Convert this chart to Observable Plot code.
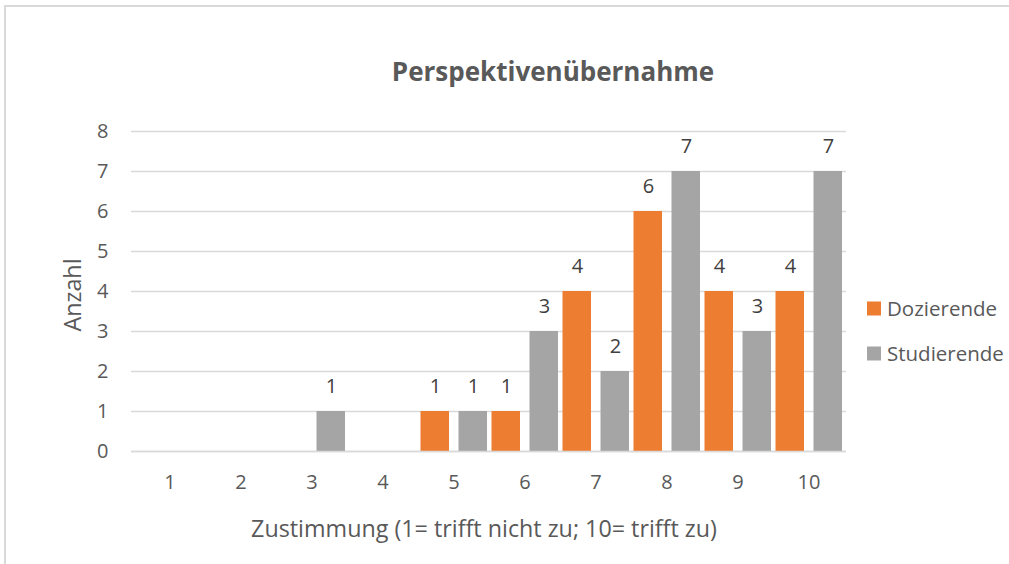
<!DOCTYPE html>
<html><head><meta charset="utf-8">
<script src="https://cdn.jsdelivr.net/npm/d3@7"></script>
<script src="https://cdn.jsdelivr.net/npm/@observablehq/plot@0.6"></script>
<style>
html,body{margin:0;padding:0;background:#fff;}
#chart{position:relative;width:1009px;height:564px;overflow:hidden;}
</style></head><body><div id="chart"></div>
<script>
const categories = ["1","2","3","4","5","6","7","8","9","10"];
const seriesNames = ["Dozierende","Studierende"];
const dozierende = [0,0,0,0,1,1,4,6,4,4];
const studierende = [0,0,1,0,1,3,2,7,3,7];
const yTicks = [0,1,2,3,4,5,6,7,8];
const title = "Perspektivenübernahme";
const xTitle = "Zustimmung (1= trifft nicht zu; 10= trifft zu)";
const yTitle = "Anzahl";
const colors = ["#ED7D31","#A5A5A5"];

const rowsD = categories.map((c,i)=>({cat:c, series:seriesNames[0], value:dozierende[i]}));
const rowsS = categories.map((c,i)=>({cat:c, series:seriesNames[1], value:studierende[i]}));

const FONT = "'Open Sans'";
const W = 1009, H = 564;
const plot = Plot.plot({
  width: W, height: H,
  marginLeft: 131, marginRight: 163, marginTop: 131, marginBottom: 113,
  style: {fontFamily: FONT, fontSize: "20px", color: "#595959", background: "white"},
  x: {type: "band", domain: categories, padding: 0, label: null, tickSize: 0, tickPadding: 23},
  y: {domain: [0, 8], ticks: yTicks, label: null, tickSize: 0, tickPadding: 23},
  marks: [
    Plot.ruleY(yTicks, {stroke: "#d9d9d9", strokeWidth: 1.5}),
    Plot.barY(rowsD, {x: "cat", y: "value", fill: colors[0], insetLeft: 2.5, insetRight: 40}),
    Plot.barY(rowsS, {x: "cat", y: "value", fill: colors[1], insetLeft: 40.5, insetRight: 2}),
    Plot.ruleY([0], {stroke: "#d9d9d9", strokeWidth: 1.5}),
    Plot.text(rowsD.filter(d => d.value > 0), {x: "cat", y: "value", text: d => String(d.value), dx: -18.5, dy: -25, fill: "#404040", fontSize: 20, lineAnchor: "middle"}),
    Plot.text(rowsS.filter(d => d.value > 0), {x: "cat", y: "value", text: d => String(d.value), dx: 19.5, dy: -25, fill: "#404040", fontSize: 20, lineAnchor: "middle"})
  ]
});
document.getElementById("chart").appendChild(plot);

const svg = d3.select(plot);
// outer frame
svg.append("line").attr("x1", 5).attr("x2", 5).attr("y1", 5).attr("y2", H).attr("stroke", "#d9d9d9").attr("stroke-width", 2);
svg.append("line").attr("x1", 4).attr("x2", W).attr("y1", 6).attr("y2", 6).attr("stroke", "#d9d9d9").attr("stroke-width", 2);
// title
svg.append("text").attr("x", 553).attr("y", 81).attr("text-anchor", "middle")
  .attr("font-family", FONT).attr("font-weight", "bold").attr("font-size", 26).attr("fill", "#595959").text(title);
// x title
svg.append("text").attr("x", 484).attr("y", 537).attr("text-anchor", "middle")
  .attr("font-family", FONT).attr("font-size", 23.3).attr("fill", "#595959").text(xTitle);
// y title
svg.append("text").attr("transform", "translate(81,295) rotate(-90)").attr("text-anchor", "middle")
  .attr("font-family", FONT).attr("font-size", 23.3).attr("fill", "#595959").text(yTitle);
// legend
const legendY = [308.5, 353.5];
seriesNames.forEach((name, i) => {
  svg.append("rect").attr("x", 867).attr("y", legendY[i] - 7).attr("width", 14).attr("height", 14).attr("fill", colors[i]);
  svg.append("text").attr("x", 887).attr("y", legendY[i]).attr("dy", "0.36em").attr("text-anchor", "start")
    .attr("font-family", FONT).attr("font-size", 20.5).attr("fill", "#595959").text(name);
});
</script></body></html>
